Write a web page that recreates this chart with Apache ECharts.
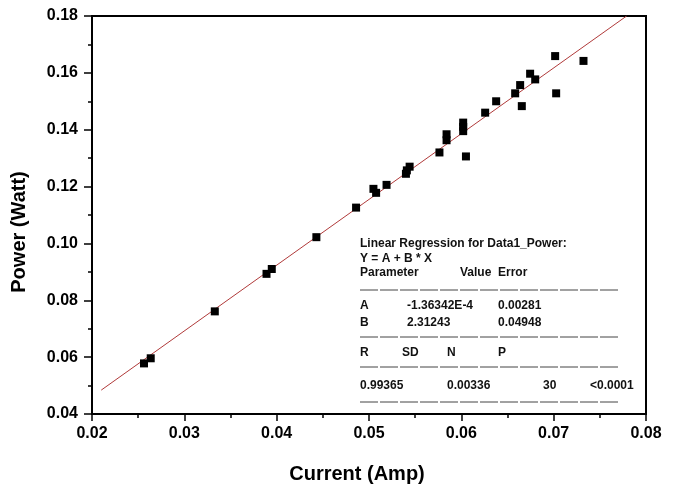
<!DOCTYPE html>
<html>
<head>
<meta charset="utf-8">
<script src="https://cdn.jsdelivr.net/npm/echarts/dist/echarts.min.js"></script>
<style>
  html, body { margin: 0; padding: 0; background: #fff; }
  #chart { width: 680px; height: 489px; }
</style>
</head>
<body>
<div id="chart"></div>
<script>
const currentAmp = [
  0.02563, 0.02636, 0.0333, 0.0389, 0.03947, 0.0443, 0.0486, 0.05048, 0.05077, 0.0519,
  0.0540, 0.0541, 0.0544, 0.05763, 0.0584, 0.0584, 0.0602, 0.0602, 0.0602, 0.0605,
  0.06258, 0.06377, 0.06583, 0.06637, 0.06655, 0.06745, 0.0680, 0.07016, 0.07027, 0.07323
];
const powerWatt = [
  0.0578, 0.0596, 0.0761, 0.0893, 0.0910, 0.1022, 0.1126, 0.1192, 0.1178, 0.1206,
  0.1245, 0.1257, 0.1270, 0.1320, 0.1363, 0.1384, 0.1395, 0.1410, 0.1425, 0.1306,
  0.1460, 0.1500, 0.1528, 0.1557, 0.1483, 0.1597, 0.1577, 0.1659, 0.1528, 0.1642
];

// fitted line end points (Y = A + B * X)
const fitX = [0.021, 0.0779];
const fitY = [0.0484, 0.18];

// regression report text
const statsTitle = ['Linear Regression for Data1_Power:', 'Y = A + B * X'];
const statsHeader = ['Parameter', 'Value', 'Error'];
const paramNames = ['A', 'B'];
const paramValues = ['-1.36342E-4', '2.31243'];
const paramErrors = ['0.00281', '0.04948'];
const fitHeader = ['R', 'SD', 'N', 'P'];
const fitStats = ['0.99365', '0.00336', '30', '<0.0001'];

const font = 'Arial, "Liberation Sans", sans-serif';

const points = currentAmp.map((x, i) => [x, powerWatt[i]]);
const fitLine = fitX.map((x, i) => [x, fitY[i]]);

// text block layout (pixels)
const txt = (s, x, y) => ({
  type: 'text',
  x: x, y: y,
  style: {
    text: s,
    font: 'bold 12px ' + font,
    fill: '#111',
    textVerticalAlign: 'middle'
  }
});
const dash = (y) => ({
  type: 'line',
  shape: { x1: 360, y1: y, x2: 618, y2: y },
  style: { stroke: '#444', lineWidth: 1, lineDash: [18, 2] }
});

let graphic = [
  txt(statsTitle[0], 360, 244),
  txt(statsTitle[1], 360, 259),
  txt(statsHeader[0], 360, 273),
  txt(statsHeader[1], 460, 273),
  txt(statsHeader[2], 498, 273),
  dash(290),
  dash(337),
  dash(367),
  dash(402)
];
const paramRowY = [306, 323];
paramNames.forEach((n, i) => {
  graphic.push(txt(n, 360, paramRowY[i]));
  graphic.push(txt(paramValues[i], 407, paramRowY[i]));
  graphic.push(txt(paramErrors[i], 498, paramRowY[i]));
});
const headX = [360, 402, 447, 498];
fitHeader.forEach((s, i) => graphic.push(txt(s, headX[i], 353)));
const statX = [360, 447, 543, 590];
fitStats.forEach((s, i) => graphic.push(txt(s, statX[i], 386)));

const option = {
  animation: false,
  backgroundColor: '#fff',
  grid: {
    left: 92,
    right: 34,
    top: 16,
    bottom: 64,
    show: true,
    borderColor: '#000',
    borderWidth: 2
  },
  xAxis: {
    type: 'value',
    min: 0.02,
    max: 0.08,
    interval: 0.01,
    name: 'Current (Amp)',
    nameLocation: 'middle',
    nameGap: 50,
    nameTextStyle: {
      fontFamily: font, fontWeight: 'bold', fontSize: 20, color: '#000',
      padding: [0, 24, 0, 0]
    },
    axisLine: { show: true, lineStyle: { color: '#000', width: 2 } },
    axisTick: { show: true, length: 7, lineStyle: { color: '#000', width: 1.5 } },
    minorTick: { show: true, splitNumber: 2, length: 4, lineStyle: { color: '#000', width: 1.5 } },
    splitLine: { show: false },
    axisLabel: {
      margin: 12,
      fontFamily: font, fontWeight: 'bold', fontSize: 16, color: '#000',
      formatter: (v) => v.toFixed(2)
    }
  },
  yAxis: {
    type: 'value',
    min: 0.04,
    max: 0.18,
    interval: 0.02,
    name: 'Power (Watt)',
    nameLocation: 'middle',
    nameGap: 63,
    nameTextStyle: {
      fontFamily: font, fontWeight: 'bold', fontSize: 20, color: '#000',
      padding: [0, 34, 0, 0]
    },
    axisLine: { show: true, lineStyle: { color: '#000', width: 2 } },
    axisTick: { show: true, length: 8, lineStyle: { color: '#000', width: 1.5 } },
    minorTick: { show: true, splitNumber: 2, length: 4, lineStyle: { color: '#000', width: 1.5 } },
    splitLine: { show: false },
    axisLabel: {
      margin: 14,
      fontFamily: font, fontWeight: 'bold', fontSize: 16, color: '#000',
      formatter: (v) => v.toFixed(2)
    }
  },
  series: [
    {
      name: 'Fit',
      type: 'line',
      data: fitLine,
      symbol: 'none',
      lineStyle: { color: '#b03a3a', width: 1 },
      z: 2
    },
    {
      name: 'Data1_Power',
      type: 'scatter',
      data: points,
      symbol: 'rect',
      symbolSize: 8,
      itemStyle: { color: '#000', opacity: 1 },
      z: 3
    }
  ],
  graphic: graphic
};

const myChart = echarts.init(document.getElementById('chart'));
myChart.setOption(option);
</script>
</body>
</html>
